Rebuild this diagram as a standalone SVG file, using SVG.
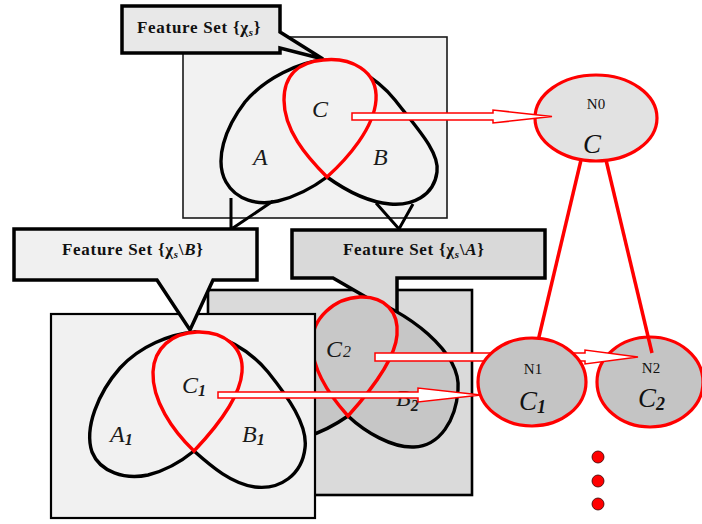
<svg xmlns="http://www.w3.org/2000/svg" width="702" height="524" viewBox="0 0 702 524">
  <style>
    .panel-light { fill: #f2f2f2; stroke: #1a1a1a; stroke-width: 1.6; }
    .panel-front { fill: #f1f1f1; stroke: #000; stroke-width: 2.2; }
    .panel-back { fill: #dadada; stroke: #000; stroke-width: 2.6; }
    .callout { stroke: #000; stroke-width: 3.5; stroke-linejoin: miter; }
    .ptr { fill: none; stroke: #000; stroke-width: 3; }
    .set { fill: none; stroke: #000; stroke-width: 3.4; stroke-linecap: round; }
    .core { stroke: #ff0000; stroke-width: 3.4; }
    .lbl { font-family: "Liberation Serif", "Times New Roman", serif; font-style: italic; font-size: 24px; fill: #1a1a1a; }
    .sub { font-weight: bold; font-size: 16px; }
    .cap { font-family: "Liberation Serif", "Times New Roman", serif; font-weight: bold; font-size: 17px; letter-spacing: 0.7px; fill: #111; }
    .node { stroke: #ff0000; stroke-width: 3.2; }
    .nid { font-family: "Liberation Serif", "Times New Roman", serif; font-size: 15px; fill: #111; text-anchor: middle; }
    .nlbl { font-family: "Liberation Serif", "Times New Roman", serif; font-style: italic; font-size: 27px; fill: #111; }
    .hollow { fill: #fff; stroke: #ff0000; stroke-width: 1.5; stroke-linejoin: miter; }
    .edge { stroke: #ff0000; stroke-width: 3.5; fill: none; }
    .dot { fill: #ff0000; stroke: #300; stroke-width: 0.8; }
  </style>

  <!-- top feature-set panel -->
  <g id="panel-root">
    <rect class="panel-light" x="183" y="37" width="264" height="181"/>
  </g>

  <g id="callout-root">
    <path class="callout" fill="#e8e8e8" d="M122,6 H280 V32 L323,59 L280,48 V53 H122 Z"/>
    <text class="cap" x="137" y="33">Feature Set {χ<tspan font-size="11" font-style="italic" dy="3">s</tspan><tspan dy="-3">}</tspan></text>
  </g>

  <!-- pointers from the lower callouts up into the root diagram -->
  <g id="pointers-up">
    <path class="ptr" d="M231,229 V198 M233,228 L273,201"/>
    <path class="ptr" d="M376,203 L399,229 L413,204"/>
  </g>

  <!-- root Venn: outer lobes A and B, shared core C -->
  <g id="venn-root">
    <path class="set" d="M323,60 C300,62 265,78 245,102 C225,128 214,160 226,182 C236,200 258,206 278,201 C298,196 315,186 327,177"/>
    <path class="set" d="M323,60 C345,61 375,75 395,100 C415,126 440,152 437,172 C434,196 412,206 390,204 C368,202 345,190 327,177"/>
    <path class="core" fill="#f2f2f2" d="M323,60 C350,57 378,70 376,100 C374,128 348,158 327,177 C306,156 284,130 284,100 C284,74 300,62 323,60 Z"/>
    <text class="lbl" x="312" y="117">C</text>
    <text class="lbl" x="253" y="165">A</text>
    <text class="lbl" x="373" y="165">B</text>
  </g>

  <!-- second branch panel (behind) -->
  <g id="panel-branch2">
    <rect class="panel-back" x="208" y="290" width="264" height="205"/>
  </g>

  <g id="callout-branch2">
    <path class="callout" fill="#d9d9d9" d="M292,230 H545 V278 H397 V315 L333,278 H292 Z"/>
    <text class="cap" x="343" y="255">Feature Set {χ<tspan font-size="11" font-style="italic" dy="3">s</tspan><tspan dy="-3">\</tspan><tspan font-style="italic">A</tspan>}</text>
  </g>

  <g id="venn-branch2">
    <!-- lobe fills -->
    <path fill="#c6c6c6" d="M312,345 C313,372 330,396 348,416 C325,432 290,448 268,434 C248,420 245,380 262,350 Z"/>
    <path fill="#c6c6c6" d="M360,297 C380,300 410,318 428,334 C448,352 460,370 458,390 C456,420 440,446 414,447 C392,448 365,432 348,416 Z"/>
    <!-- lobe outlines -->
    <path class="set" d="M348,416 C325,432 290,448 268,434 C248,420 245,380 262,350"/>
    <path class="set" d="M360,297 C380,300 410,318 428,334 C448,352 460,370 458,390 C456,420 440,446 414,447 C392,448 365,432 348,416"/>
    <path class="core" fill="#c8c8c8" d="M360,297 C385,296 399,312 397,335 C395,362 366,396 348,416 C330,396 313,372 312,345 C311,318 335,298 360,297 Z"/>
    <text class="lbl" x="326" y="357">C<tspan font-size="16" dx="1">2</tspan></text>
    <text class="lbl" x="396" y="406">B<tspan class="sub" dy="5">2</tspan></text>
  </g>

  <!-- first branch panel (front) -->
  <g id="panel-branch1">
    <rect class="panel-front" x="51" y="314" width="264" height="204"/>
  </g>

  <g id="callout-branch1">
    <path class="callout" fill="#f0f0f0" d="M14,229 H257 V280 H213 L190,330 L157,280 H14 Z"/>
    <text class="cap" x="62" y="255">Feature Set {χ<tspan font-size="11" font-style="italic" dy="3">s</tspan><tspan dy="-3">\</tspan><tspan font-style="italic">B</tspan>}</text>
  </g>

  <g id="venn-branch1">
    <path class="set" d="M195,332 C170,334 140,346 120,368 C98,393 84,428 92,452 C100,472 125,480 148,475 C168,470 183,460 194,451"/>
    <path class="set" d="M195,332 C222,334 250,350 268,372 C288,397 308,425 305,448 C302,475 280,490 255,487 C232,484 212,467 194,451"/>
    <path class="core" fill="#f1f1f1" d="M197,332 C225,331 244,348 242,372 C240,400 212,432 194,451 C172,430 152,400 153,372 C154,348 172,333 197,332 Z"/>
    <text class="lbl" x="182" y="393">C<tspan class="sub" dy="3">1</tspan></text>
    <text class="lbl" x="110" y="442">A<tspan class="sub" dy="3">1</tspan></text>
    <text class="lbl" x="242" y="442">B<tspan class="sub" dy="3">1</tspan></text>
  </g>

  <!-- search tree nodes -->
  <g id="N0">
    <ellipse class="node" fill="#e2e2e2" cx="596" cy="118" rx="61" ry="43"/>
    <text class="nid" x="596" y="109">N0</text>
    <text class="nlbl" x="583" y="153">C</text>
  </g>

  <g id="N2">
    <ellipse class="node" fill="#c4c4c4" cx="650" cy="382" rx="53" ry="45"/>
    <text class="nid" x="651" y="373">N2</text>
    <text class="nlbl" x="638" y="407">C<tspan font-size="18" font-weight="bold" dy="3">2</tspan></text>
  </g>

  <!-- connectors: core-to-node arrows and tree edges -->
  <g id="connectors">
    <line class="edge" x1="581" y1="160" x2="538" y2="341"/>
    <line class="edge" x1="606" y1="160" x2="652" y2="353"/>
    <polygon class="hollow" points="352,113 493,113 493,110 552,116.5 493,123 493,120 352,120"/>
    <polygon class="hollow" points="375,353 585,353 585,350 638,357 585,364 585,361 375,361"/>
    <polygon class="hollow" points="218,392 418,392 418,388 481,395 418,402 418,398 218,398"/>
  </g>

  <g id="N1">
    <ellipse class="node" fill="#c4c4c4" cx="532" cy="382" rx="54" ry="44"/>
    <text class="nid" x="533" y="374">N1</text>
    <text class="nlbl" x="519" y="410">C<tspan font-size="18" font-weight="bold" dy="3">1</tspan></text>
  </g>

  <!-- continuation marks -->
  <g id="more">
    <circle class="dot" cx="598" cy="457" r="6"/>
    <circle class="dot" cx="598" cy="481" r="6"/>
    <circle class="dot" cx="598" cy="504" r="6"/>
  </g>
</svg>
